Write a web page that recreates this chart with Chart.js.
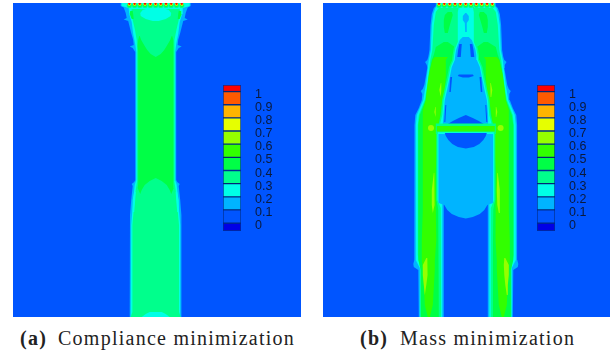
<!DOCTYPE html>
<html>
<head>
<meta charset="utf-8">
<script src="https://cdn.jsdelivr.net/npm/chart.js@4"></script>
<style>
  html, body { margin: 0; padding: 0; background: #fff; }
  body { position: relative; width: 616px; height: 356px; overflow: hidden; }
  canvas { position: absolute; filter: blur(0.35px); }
  .cap { position: absolute; top: 327px; white-space: nowrap; font: 20px "Liberation Serif", serif; letter-spacing: 1.25px; color: #222; }
  .cap b { position: absolute; left: 0; top: 0; }
  .cap span { position: absolute; top: 0; }
</style>
</head>
<body>
<canvas id="campo-a" width="288" height="314" style="left:13px;top:3px"></canvas>
<canvas id="campo-b" width="287" height="314" style="left:323px;top:3px"></canvas>
<canvas id="barra-a" width="54" height="146" style="left:223px;top:85px"></canvas>
<canvas id="barra-b" width="54" height="146" style="left:537px;top:85px"></canvas>
<div class="cap" style="left:20px"><b>(a)</b><span style="left:38px">Compliance minimization</span></div>
<div class="cap" style="left:360px"><b>(b)</b><span style="left:40px">Mass minimization</span></div>
<script>
// Colour bar: one colour per contour level, bottom to top
const LEVEL_COLORS = ['#0000e6', '#0055ff', '#00b4ff', '#00ffe6', '#00ff8c', '#00ff46', '#32ff00', '#96ff00', '#e6ff00', '#ffb400', '#ff5a00', '#ff0000'];
const LEVEL_EDGES = [-0.04, 0.02, 0.12, 0.22, 0.32, 0.42, 0.52, 0.62, 0.72, 0.82, 0.92, 1.02, 1.07];
const TICK_VALUES = [0, 0.1, 0.2, 0.3, 0.4, 0.5, 0.6, 0.7, 0.8, 0.9, 1];

// Level indexes used by the regions below
const BG = 1, SKY = 2, CYAN = 3, SPRING = 4, GREEN = 5, LIME = 6, CHART = 7, YEL = 8, AMB = 9, RED = 11;

// Field limits of both panels
const A_X = [13, 301], B_X = [323, 610], FIELD_Y = [3, 317];
const A_CENTER = 155.7, B_CENTER = 465.8;

// Panel (a): y stations and half widths around the centre line
const aSkyY = [3, 6, 7.5, 13, 18, 19.5, 21, 25, 33, 40, 45, 46.5, 48, 52, 180, 182, 184, 186, 200, 215, 317];
const aSkyW = [35, 35, 32, 30, 29, 32, 27.5, 26.5, 24.5, 22.5, 22, 26, 23, 20.5, 20.5, 21.5, 24, 23, 24.5, 25.7, 26];
const aCyanY = [3, 6, 8, 14, 22, 34, 44, 52, 180, 185, 200, 225, 317];
const aCyanW = [34, 34, 27, 26.5, 24, 22.5, 20.5, 19.5, 19.5, 21, 22.5, 24.5, 25];
const aSpringY = [9, 13, 20, 30, 40, 50, 181, 190, 205, 225, 312, 317];
const aSpringW = [24, 24.5, 23, 20.7, 19, 18.5, 18.5, 20, 21.5, 23.3, 23.3, 25];
const aGreenY = [36, 40, 46, 52, 184, 188, 194];
const aGreenW = [16.5, 17.5, 18, 17.5, 17.5, 18, 15.5];
const aCupY = [30, 36, 40, 46, 50, 54, 57];
const aCupW = [16.5, 16, 14.5, 11, 8.5, 5, 0];
const aDomeY = [178, 181, 185, 190, 194, 200];
const aDomeW = [0, 6, 11, 14, 15.5, 16];
const aOvalY = [8.5, 10, 13, 16, 19, 21];
const aOvalW = [8, 13, 15.5, 15, 10, 3];
const aFootY = [312, 314, 317];
const aFootW = [6, 10, 14];
// Strips on both sides: inner and outer offset
const aCornerY = [11, 14, 19], aCornerIn = [23, 22.5, 22], aCornerOut = [25.5, 26, 24];
const aPocketY = [192, 200, 212], aPocketIn = [20, 20.5, 21.5], aPocketOut = [21.5, 23, 23];
const aDotsX = [129.3, 134.6, 139.8, 145, 150.3, 155.6, 160.8, 166, 171.2, 176.5, 181.8];

// Panel (b): outer silhouette
const bSkyY = [3, 6, 8, 14, 25, 50, 57, 60, 62, 65, 68, 85, 89, 91, 94, 100, 108, 115, 125, 260, 264, 267, 270, 317];
const bSkyW = [30, 30, 32, 34, 35.3, 36.3, 37.5, 38.5, 40.7, 39, 38.5, 41.5, 43, 45, 43.5, 44, 47, 50.5, 51.3, 51.5, 52.5, 52, 47.5, 47];
const bCyanY = [3, 6, 8, 14, 25, 50, 60, 85, 100, 115, 125, 260, 268, 317];
const bCyanW = [29, 29, 30.5, 32.5, 34, 35, 37, 40, 42.5, 49, 50, 50, 46, 46];
const bSpringY = [8, 12, 25, 50, 60, 85, 100, 115, 125, 255, 268, 317];
const bSpringW = [27, 30, 32, 33.5, 35.5, 38.5, 41, 47, 48, 48, 45.5, 45.3];
// Panel (b): legs and streaks
const bBlobY = [12, 15, 20, 27, 33], bBlobIn = [14, 13, 14.5, 16.5, 18], bBlobOut = [18, 21, 22, 22, 21];
const bGreenY = [42, 47, 55, 60, 70, 85, 100, 115, 125, 135, 200, 210, 260, 270, 317];
const bGreenIn = [18, 11, 11, 12, 16, 19, 23, 24.5, 25, 28.5, 29, 27.5, 27, 27, 27];
const bGreenOut = [22, 30, 32, 34, 36, 38, 40, 46, 47.5, 47.5, 47.5, 47.5, 47.5, 45, 45];
const bLimeY = [57, 60, 75, 90, 100, 110, 125, 170, 211, 240, 261, 270, 305, 317];
const bLimeIn = [18, 20, 20, 21, 23, 25, 27, 30, 30, 29.5, 31, 31, 33, 36];
const bLimeOut = [31, 33.5, 37, 39, 40, 43, 43, 43, 43, 44, 44, 42.7, 41, 38];
const bStreak1Y = [173, 190, 205, 213], bStreak1In = [31.5, 31, 31.5, 33], bStreak1Out = [32, 34, 34, 33.5];
const bStreak2Y = [258, 265, 275, 285, 295], bStreak2In = [38.5, 38, 38.5, 39.5, 41], bStreak2Out = [39.5, 43, 43, 42, 41.5];
const bStreak3Y = [83, 90, 97], bStreak3In = [24.5, 24.5, 25], bStreak3Out = [25, 26.5, 25.5];
const bStreak4Y = [107, 112, 117], bStreak4In = [30, 30, 30], bStreak4Out = [30.5, 31.5, 30.5];
// Panel (b): central bottle, gap and cross bar
const bInnerY = [7, 12, 30, 38, 42, 48, 55, 60, 67, 77, 90, 100, 115, 134, 200, 208, 317];
const bInnerW = [7, 8, 8, 8, 8, 10.5, 11.7, 12.2, 15.2, 17.2, 20, 22.2, 23.5, 28.3, 28.3, 25, 24.7];
const bEdgeW = [8.2, 9.2, 9.2, 9.2, 9.5, 12, 13.2, 13.7, 16.7, 18.7, 21.5, 23.7, 25, 29.5, 29.5, 27, 26.7];
const bBottleY = [37, 40, 45, 50, 55, 60, 67, 77, 90, 100, 115, 124];
const bBottleW = [3, 6, 8, 9.7, 10.5, 11, 14, 16, 18.7, 21, 22.3, 23];
const bDropY = [13, 16, 20, 23, 32];
const bDropW = [0.5, 3, 3, 1, 0.6];
const bLiningY = [200, 317], bLiningW = [23.5, 23.5];
const bGapY = [203, 317], bGapW = [22, 22];
const bBoxY = [133, 203, 205, 210, 214, 217, 218.5];
const bBoxW = [27.3, 27.3, 21.5, 18.5, 14, 7, 0];
const bSpot1Y = [44, 50, 57], bSpot1In = [4, 4.5, 5], bSpot1Out = [6.5, 7.7, 8.5];
const bSpot2Y = [74.5, 76, 77.5], bSpot2W = [7, 8, 3];
const bSpot3Y = [77, 92], bSpot3In = [13.7, 15], bSpot3Out = [15.5, 16.5];
const bSpot4Y = [105, 122], bSpot4In = [19.5, 20.5], bSpot4Out = [20.5, 21.5];
const bCapY = [115, 118, 121, 124], bCapW = [0, 7, 13, 18];
const bBowlY = [133, 136, 140, 144, 147, 148.5], bBowlW = [21, 20, 17.5, 13.5, 8, 0];
const bBarSpringY = [123.5, 134], bBarSpringW = [30, 30];
const bBarLimeY = [126, 131.5], bBarLimeW = [29, 29];
const bBarLineY = [132.3, 134], bBarLineW = [28, 28];
const bJointX = [431, 500.6], bJointY = [128, 128];
const bDotsX = [439, 444.3, 449.7, 455, 460.3, 465.7, 471, 476.3, 481.7, 487, 492.3];

// Row of load points along the top edge: level, y, radius
const DOT_LAYERS = [[SPRING, 5.5, 2.6], [GREEN, 5, 2], [YEL, 4.3, 1.5], [RED, 3.8, 1.1]];

function mancha(nivel, puntos) {
  return {
    data: puntos.concat([puntos[0]]),
    showLine: true, fill: 'shape', tension: 0,
    // borderWidth 0 alone still strokes with the default grey, hence transparent
    backgroundColor: LEVEL_COLORS[nivel], borderColor: 'transparent', borderWidth: 0, pointRadius: 0
  };
}
// Region around the centre line
function central(nivel, cx, ys, ws) {
  const ida = ys.map((y, i) => ({ x: cx - ws[i], y }));
  const vuelta = ys.map((y, i) => ({ x: cx + ws[i], y })).reverse();
  return [mancha(nivel, ida.concat(vuelta))];
}
// Pair of strips mirrored about the centre line
function tiras(nivel, cx, ys, inn, out) {
  const lado = s => {
    const ida = ys.map((y, i) => ({ x: cx + s * inn[i], y }));
    const vuelta = ys.map((y, i) => ({ x: cx + s * out[i], y })).reverse();
    return mancha(nivel, ida.concat(vuelta));
  };
  return [lado(-1), lado(1)];
}
function puntos(xs) {
  return DOT_LAYERS.map(([nivel, y, r]) => ({
    data: xs.map(x => ({ x, y })), showLine: false,
    pointRadius: r, borderWidth: 0, pointBorderWidth: 0, pointBackgroundColor: LEVEL_COLORS[nivel]
  }));
}
function fondo(limX) {
  const cx = (limX[0] + limX[1]) / 2, w = (limX[1] - limX[0]) / 2 + 1;
  return central(BG, cx, [FIELD_Y[0] - 1, FIELD_Y[1] + 1], [w, w]);
}

const capasA = [
  fondo(A_X),
  central(SKY, A_CENTER, aSkyY, aSkyW),
  central(CYAN, A_CENTER, aCyanY, aCyanW),
  central(SPRING, A_CENTER, aSpringY, aSpringW),
  tiras(CYAN, A_CENTER, aPocketY, aPocketIn, aPocketOut),
  central(GREEN, A_CENTER, aGreenY, aGreenW),
  central(SPRING, A_CENTER, aCupY, aCupW),
  central(SPRING, A_CENTER, aDomeY, aDomeW),
  tiras(GREEN, A_CENTER, aCornerY, aCornerIn, aCornerOut),
  central(CYAN, A_CENTER, aOvalY, aOvalW),
  central(CYAN, A_CENTER, aFootY, aFootW),
  puntos(aDotsX)
].flat();

const capasB = [
  fondo(B_X),
  central(SKY, B_CENTER, bSkyY, bSkyW),
  central(CYAN, B_CENTER, bCyanY, bCyanW),
  central(SPRING, B_CENTER, bSpringY, bSpringW),
  tiras(GREEN, B_CENTER, bBlobY, bBlobIn, bBlobOut),
  tiras(GREEN, B_CENTER, bGreenY, bGreenIn, bGreenOut),
  tiras(LIME, B_CENTER, bLimeY, bLimeIn, bLimeOut),
  tiras(CHART, B_CENTER, bStreak1Y, bStreak1In, bStreak1Out),
  tiras(CHART, B_CENTER, bStreak2Y, bStreak2In, bStreak2Out),
  tiras(CHART, B_CENTER, bStreak3Y, bStreak3In, bStreak3Out),
  tiras(CHART, B_CENTER, bStreak4Y, bStreak4In, bStreak4Out),
  central(SPRING, B_CENTER, bInnerY, bEdgeW),
  central(CYAN, B_CENTER, bInnerY, bInnerW),
  central(SKY, B_CENTER, bDropY, bDropW),
  central(SKY, B_CENTER, bBottleY, bBottleW),
  central(SKY, B_CENTER, bLiningY, bLiningW),
  central(BG, B_CENTER, bGapY, bGapW),
  central(SKY, B_CENTER, bBoxY, bBoxW),
  tiras(BG, B_CENTER, bSpot1Y, bSpot1In, bSpot1Out),
  central(BG, B_CENTER, bSpot2Y, bSpot2W),
  tiras(BG, B_CENTER, bSpot3Y, bSpot3In, bSpot3Out),
  tiras(BG, B_CENTER, bSpot4Y, bSpot4In, bSpot4Out),
  central(BG, B_CENTER, bCapY, bCapW),
  central(SPRING, B_CENTER, bBarSpringY, bBarSpringW),
  central(LIME, B_CENTER, bBarLimeY, bBarLimeW),
  central(CYAN, B_CENTER, bBarLineY, bBarLineW),
  central(BG, B_CENTER, bBowlY, bBowlW),
  [{
    data: bJointX.map((x, i) => ({ x, y: bJointY[i] })), showLine: false,
    pointRadius: 3, pointBorderWidth: 0, pointBackgroundColor: LEVEL_COLORS[CHART]
  }],
  puntos(bDotsX)
].flat();

function dibujarCampo(id, capas, limX) {
  // first layer goes underneath: lower order paints later
  capas.forEach((d, i) => { d.order = capas.length - i; });
  return new Chart(document.getElementById(id), {
    type: 'scatter',
    data: { datasets: capas },
    options: {
      responsive: false, animation: false, devicePixelRatio: 1,
      layout: { padding: 0, autoPadding: false },
      plugins: { legend: { display: false }, tooltip: { enabled: false } },
      scales: {
        x: { type: 'linear', display: false, min: limX[0], max: limX[1] },
        y: { type: 'linear', display: false, reverse: true, min: FIELD_Y[0], max: FIELD_Y[1] }
      }
    }
  });
}

function dibujarBarra(id) {
  return new Chart(document.getElementById(id), {
    type: 'bar',
    data: {
      labels: [''],
      datasets: LEVEL_COLORS.map((c, i) => ({
        data: [[LEVEL_EDGES[i], LEVEL_EDGES[i + 1]]],
        backgroundColor: c, borderColor: 'rgba(0,25,70,0.6)', borderWidth: 1, borderSkipped: false,
        barPercentage: 1, categoryPercentage: 1, grouped: false
      }))
    },
    options: {
      responsive: false, animation: false, devicePixelRatio: 1,
      layout: { padding: 0, autoPadding: false },
      plugins: { legend: { display: false }, tooltip: { enabled: false } },
      scales: {
        x: { display: false },
        y: {
          position: 'right', min: LEVEL_EDGES[0], max: LEVEL_EDGES[LEVEL_EDGES.length - 1],
          grid: { display: false }, border: { display: false },
          afterBuildTicks: s => { s.ticks = TICK_VALUES.map(value => ({ value })); },
          afterFit: s => { s.width = 36; s.paddingTop = 0; s.paddingBottom = 0; },
          ticks: {
            autoSkip: false, padding: 6, color: '#0a1a3c',
            font: { family: '"Liberation Sans", Arial, sans-serif', size: 12.5 },
            callback: v => String(v)
          }
        }
      }
    }
  });
}

dibujarCampo('campo-a', capasA, A_X);
dibujarCampo('campo-b', capasB, B_X);
dibujarBarra('barra-a');
dibujarBarra('barra-b');
</script>
</body>
</html>
